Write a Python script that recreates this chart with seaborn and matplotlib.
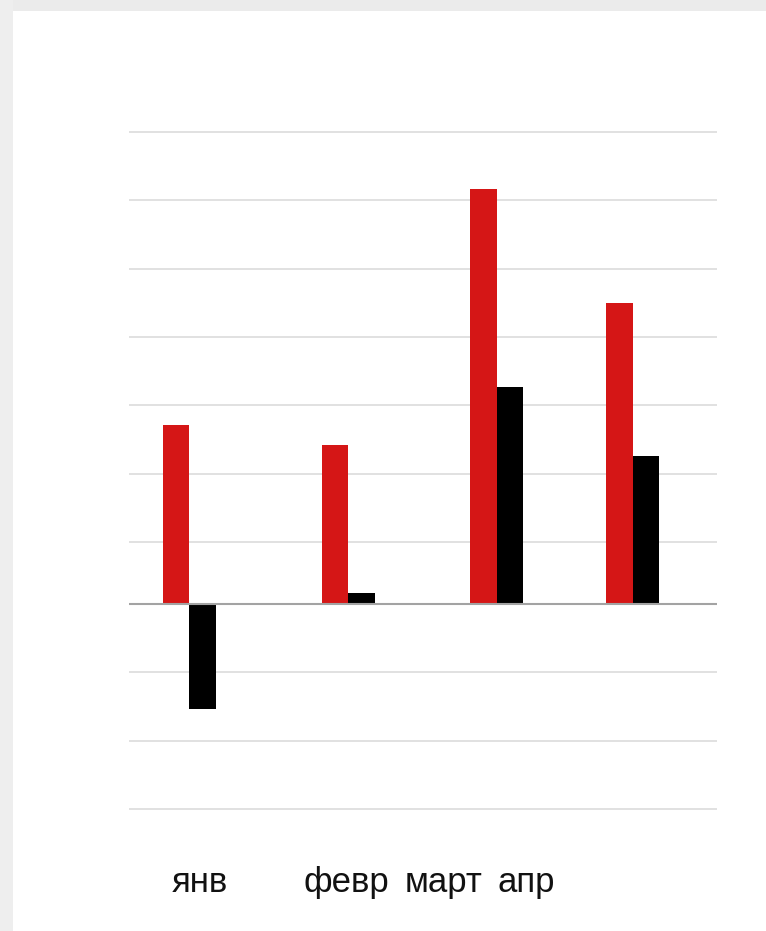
import matplotlib
matplotlib.use("Agg")
import matplotlib.pyplot as plt
from matplotlib.patches import Rectangle
import pandas as pd
import seaborn as sns

# Monthly values for the two series
months = ["янв", "февр", "март", "апр"]
series_names = ["план", "факт"]
plan_values = [26.2, 23.3, 60.8, 44.1]
fact_values = [-15.4, 1.6, 31.7, 21.7]

# Horizontal placement of each month group (axis units)
group_x = [189.3, 348.3, 496.7, 632.7]
# Horizontal centres of the month captions (pixels)
label_x = [200, 346, 444, 526]

df = pd.DataFrame({
    "x": group_x * 2,
    "value": plan_values + fact_values,
    "series": [series_names[0]] * 4 + [series_names[1]] * 4,
})

sns.set_theme(style="white")
plt.rcParams["font.family"] = ["Liberation Sans", "DejaVu Sans"]

W, H = 766, 931
fig = plt.figure(figsize=(W / 100, H / 100), dpi=100)
fig.patch.set_facecolor("white")

# Paper-like border strips along the top and left edges
fig.patches.append(Rectangle((0, 1 - 11 / H), 1, 11 / H, transform=fig.transFigure,
                             facecolor="#ebebeb", edgecolor="none", zorder=0))
fig.patches.append(Rectangle((0, 0), 13 / W, 1, transform=fig.transFigure,
                             facecolor="#eeeeee", edgecolor="none", zorder=0))

ax_left, ax_right = 129, 717
ax_top, ax_bottom = 100, 830
ax = fig.add_axes([ax_left / W, (H - ax_bottom) / H,
                   (ax_right - ax_left) / W, (ax_bottom - ax_top) / H])
ax.set_facecolor("none")

unit = 6.83  # pixels per value unit
zero_px = 604
ylim = (-(ax_bottom - zero_px) / unit, (zero_px - ax_top) / unit)

grid_levels = [-30, -20, -10] + [9.1 + 10 * k for k in range(7)]
for g in grid_levels:
    ax.axhline(g, color="#dedede", lw=1.3, zorder=0)
ax.axhline(0, color="#a3a3a3", lw=1.5, zorder=3)

sns.barplot(data=df, x="x", y="value", hue="series", native_scale=True,
            palette=["#d51616", "#000000"], width=53.4 / 136, dodge=True,
            saturation=1, errorbar=None, legend=False, ax=ax, zorder=2,
            linewidth=0, edgecolor="none")

ax.set_xlim(ax_left, ax_right)
ax.set_ylim(*ylim)
ax.set_xticks([])
ax.set_yticks([])
ax.set_xlabel("")
ax.set_ylabel("")
for s in ax.spines.values():
    s.set_visible(False)

# Month captions under the chart
for name, xpx in zip(months, label_x):
    fig.text(xpx / W, 1 - 892 / H, name, ha="center", va="baseline",
             fontsize=25, color="#111111")

fig.savefig("out.png", dpi=100, facecolor=fig.get_facecolor())
